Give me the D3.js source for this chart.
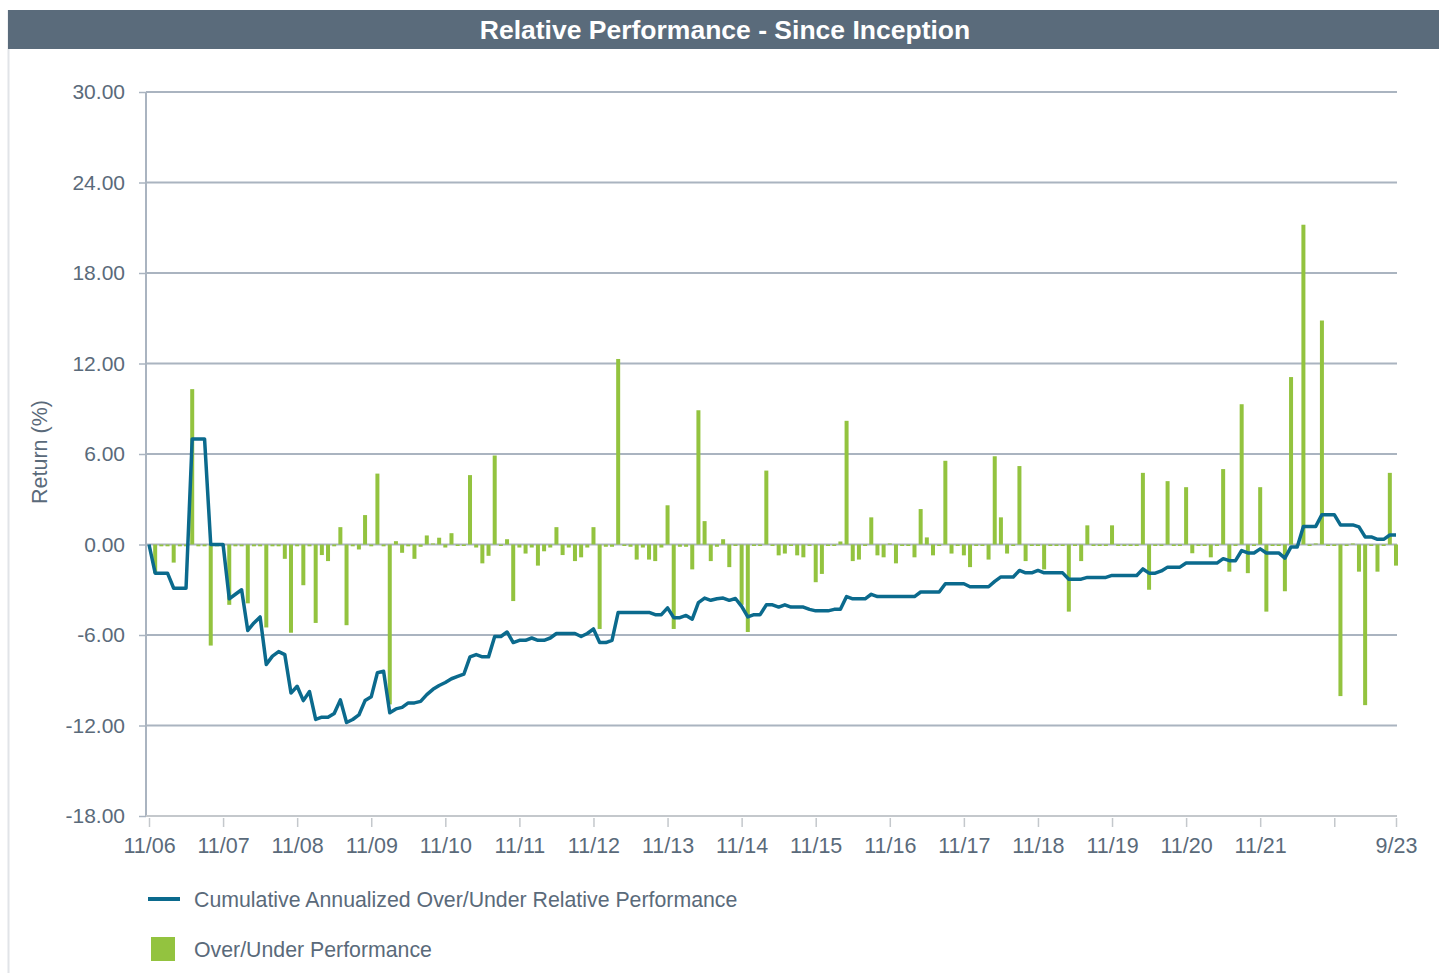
<!DOCTYPE html>
<html>
<head>
<meta charset="utf-8">
<script src="https://cdn.jsdelivr.net/npm/d3@7"></script>
<style>
  html, body { margin: 0; padding: 0; background: #ffffff; }
  svg { display: block; font-family: "Liberation Sans", Arial, sans-serif; }
</style>
</head>
<body>
<svg id="chart" width="1439" height="973"></svg>
<script>
// Monthly over/under performance (%), Nov 2006 .. Sep 2023 (index 0 = inception)
const overUnder = [
  0, -1.9, -0.12, -0.12, -1.2, -0.12, -0.12, 10.3, -0.12, -0.12,
  -6.7, -0.12, -0.12, -4.0, -0.12, -0.12, -3.9, -0.12, -0.12, -5.5,
  -0.12, -0.12, -0.95, -5.85, -0.12, -2.7, -0.12, -5.2, -0.7, -1.1,
  -0.12, 1.15, -5.35, -0.12, -0.33, 1.95, -0.12, 4.7, -0.12, -10.6,
  0.22, -0.55, -0.12, -0.95, -0.15, 0.6, 0.07, 0.45, -0.2, 0.75,
  -0.1, -0.1, 4.6, -0.2, -1.25, -0.75, 5.9, -0.1, 0.35, -3.75,
  -0.2, -0.6, -0.2, -1.4, -0.45, -0.2, 1.15, -0.7, -0.2, -1.1,
  -0.85, -0.2, 1.15, -5.6, -0.15, -0.15, 12.3, -0.1, -0.15, -1.0,
  -0.2, -1.0, -1.1, -0.2, 2.6, -5.6, -0.15, -0.15, -1.65, 8.9,
  1.55, -1.1, -0.15, 0.35, -1.5, -0.1, -4.0, -5.8, -0.1, -0.1,
  4.9, -0.1, -0.72, -0.6, -0.1, -0.72, -0.85, -0.1, -2.5, -1.95,
  -0.1, -0.1, 0.2, 8.2, -1.1, -1.0, -0.1, 1.8, -0.72, -0.85,
  0.07, -1.25, -0.1, -0.1, -0.85, 2.35, 0.47, -0.72, -0.1, 5.55,
  -0.6, -0.1, -0.72, -1.5, -0.1, -0.1, -1.0, 5.85, 1.8, -0.6,
  -0.1, 5.2, -1.1, -0.1, -0.1, -1.65, -0.1, -0.1, -0.1, -4.45,
  -0.1, -1.1, 1.27, -0.1, -0.1, -0.1, 1.27, -0.1, -0.1, -0.1,
  -0.1, 4.75, -3.0, -0.1, -0.1, 4.2, -0.1, -0.1, 3.8, -0.58,
  -0.1, -0.1, -0.85, -0.1, 5.0, -1.8, -0.1, 9.3, -1.9, -0.1,
  3.8, -4.45, -0.1, -0.1, -3.1, 11.1, -0.1, 21.2, -0.1, 0.07,
  14.85, -0.1, -0.1, -10.05, -0.1, 0.07, -1.8, -10.65, -0.1, -1.8,
  -0.1, 4.75, -1.4
];

// Cumulative annualized over/under relative performance (%)
const cumulative = [
  0, -1.9, -1.9, -1.9, -2.9, -2.9, -2.9, 7.0, 7.0, 7.0,
  0, 0, 0, -3.6, -3.3, -3.0, -5.7, -5.2, -4.8, -7.95,
  -7.4, -7.1, -7.3, -9.85, -9.4, -10.35, -9.75, -11.6, -11.45, -11.45,
  -11.2, -10.3, -11.8, -11.6, -11.3, -10.35, -10.1, -8.5, -8.4, -11.15,
  -10.9, -10.8, -10.5, -10.5, -10.4, -9.95, -9.6, -9.35, -9.15, -8.9,
  -8.75, -8.6, -7.45, -7.3, -7.45, -7.45, -6.1, -6.1, -5.8, -6.5,
  -6.35, -6.35, -6.2, -6.35, -6.35, -6.2, -5.9, -5.9, -5.9, -5.9,
  -6.1, -5.9, -5.6, -6.5, -6.5, -6.35, -4.5, -4.5, -4.5, -4.5,
  -4.5, -4.5, -4.65, -4.65, -4.2, -4.85, -4.85, -4.7, -4.95, -3.85,
  -3.55, -3.7, -3.6, -3.55, -3.7, -3.58, -4.1, -4.8, -4.65, -4.65,
  -4.0, -4.0, -4.15, -4.0, -4.15, -4.15, -4.15, -4.3, -4.4, -4.4,
  -4.4, -4.3, -4.3, -3.45, -3.6, -3.6, -3.6, -3.3, -3.45, -3.45,
  -3.45, -3.45, -3.45, -3.45, -3.45, -3.15, -3.15, -3.15, -3.15, -2.6,
  -2.6, -2.6, -2.6, -2.8, -2.8, -2.8, -2.8, -2.45, -2.15, -2.15,
  -2.15, -1.72, -1.88, -1.88, -1.72, -1.88, -1.88, -1.88, -1.88, -2.3,
  -2.3, -2.3, -2.18, -2.18, -2.18, -2.18, -2.05, -2.05, -2.05, -2.05,
  -2.05, -1.62, -1.9, -1.9, -1.75, -1.5, -1.5, -1.5, -1.23, -1.23,
  -1.23, -1.23, -1.23, -1.23, -0.94, -1.07, -1.07, -0.4, -0.56, -0.56,
  -0.29, -0.56, -0.56, -0.56, -0.9, -0.16, -0.16, 1.2, 1.2, 1.2,
  1.98, 1.98, 1.98, 1.3, 1.3, 1.3, 1.17, 0.5, 0.5, 0.34,
  0.34, 0.63, 0.63
];

// Month axis: tick positions (months since inception) and their labels
const tickMonths = [0, 12, 24, 36, 48, 60, 72, 84, 96, 108, 120, 132, 144, 156, 168, 180, 192, 202];
const tickLabels = ["11/06", "11/07", "11/08", "11/09", "11/10", "11/11", "11/12", "11/13", "11/14",
                    "11/15", "11/16", "11/17", "11/18", "11/19", "11/20", "11/21", "", "9/23"];
const yTicks = [-18, -12, -6, 0, 6, 12, 18, 24, 30];

const titleText = "Relative Performance - Since Inception";
const yTitle = "Return (%)";
const legendItems = ["Cumulative Annualized Over/Under Relative Performance", "Over/Under Performance"];

const COLORS = {
  header: "#5a6b7b",
  bar: "#93c33f",
  line: "#0b6a8d",
  grid: "#aab4c0",
  text: "#5a6a7a",
  axis: "#c4c8cc",
  frame: "#e1e4e8"
};
const FONT = "Liberation Sans, Arial, sans-serif";

const svg = d3.select("#chart");
const plot = { left: 146, right: 1397, top: 92, bottom: 816 };

const x = d3.scaleLinear().domain([0, overUnder.length - 1]).range([149, 1396]);
const y = d3.scaleLinear().domain([-18, 30]).range([plot.bottom, plot.top]);

// page frame and header
svg.append("line")
  .attr("x1", 8.5).attr("x2", 8.5).attr("y1", 10).attr("y2", 973)
  .attr("stroke", COLORS.frame).attr("stroke-width", 2);
svg.append("rect")
  .attr("x", 8).attr("y", 10).attr("width", 1431).attr("height", 39)
  .attr("fill", COLORS.header);
svg.append("text")
  .attr("x", 725).attr("y", 39)
  .attr("text-anchor", "middle")
  .attr("fill", "#ffffff")
  .attr("font-size", 26.5).attr("font-weight", "bold")
  .text(titleText);

// horizontal gridlines
svg.append("g").selectAll("line")
  .data(yTicks)
  .join("line")
  .attr("x1", plot.left).attr("x2", plot.right)
  .attr("y1", d => y(d)).attr("y2", d => y(d))
  .attr("stroke", COLORS.grid).attr("stroke-width", 2);

// y axis (plain hyphen for negatives)
const yAxis = svg.append("g")
  .attr("transform", `translate(${plot.left},0)`)
  .call(d3.axisLeft(y).tickValues(yTicks).tickFormat(d => d.toFixed(2)).tickSize(7).tickPadding(14));
yAxis.select(".domain").remove();
yAxis.selectAll(".tick line").attr("stroke", COLORS.grid).attr("stroke-width", 1.5);
yAxis.selectAll(".tick text")
  .attr("fill", COLORS.text).attr("font-size", 21)
  .attr("font-family", FONT);
svg.append("line")
  .attr("x1", plot.left).attr("x2", plot.left)
  .attr("y1", plot.top).attr("y2", plot.bottom)
  .attr("stroke", COLORS.grid).attr("stroke-width", 2);

// x axis
const xAxis = svg.append("g")
  .attr("transform", `translate(0,${plot.bottom + 2})`)
  .call(d3.axisBottom(x).tickValues(tickMonths)
    .tickFormat((d, i) => tickLabels[i]).tickSize(9).tickPadding(11));
xAxis.select(".domain").remove();
xAxis.selectAll(".tick line").attr("stroke", COLORS.axis).attr("stroke-width", 1.5);
xAxis.selectAll(".tick text")
  .attr("fill", COLORS.text).attr("font-size", 21.5)
  .attr("font-family", FONT);
svg.append("line")
  .attr("x1", plot.left).attr("x2", plot.right)
  .attr("y1", plot.bottom).attr("y2", plot.bottom)
  .attr("stroke", COLORS.axis).attr("stroke-width", 2);

// y axis title
svg.append("text")
  .attr("transform", `translate(47,452) rotate(-90)`)
  .attr("text-anchor", "middle")
  .attr("fill", COLORS.text).attr("font-size", 21.5)
  .text(yTitle);

// monthly bars
const barW = 4;
svg.append("g").selectAll("rect")
  .data(overUnder)
  .join("rect")
  .attr("x", (d, i) => x(i) - barW / 2)
  .attr("width", barW)
  .attr("y", d => y(Math.max(0, d)))
  .attr("height", d => Math.abs(y(d) - y(0)))
  .attr("fill", COLORS.bar);

// cumulative line
svg.append("path")
  .datum(cumulative)
  .attr("fill", "none")
  .attr("stroke", COLORS.line)
  .attr("stroke-width", 3.5)
  .attr("stroke-linejoin", "round")
  .attr("d", d3.line().x((d, i) => x(i)).y(d => y(d)));

// legend
const legend = svg.append("g");
legend.append("line")
  .attr("x1", 148).attr("x2", 180).attr("y1", 899).attr("y2", 899)
  .attr("stroke", COLORS.line).attr("stroke-width", 4);
legend.append("rect")
  .attr("x", 151).attr("y", 937).attr("width", 24).attr("height", 24)
  .attr("fill", COLORS.bar);
legend.selectAll("text")
  .data(legendItems)
  .join("text")
  .attr("x", 194)
  .attr("y", (d, i) => 906.5 + i * 50)
  .attr("fill", COLORS.text).attr("font-size", 21.3)
  .text(d => d);
</script>
</body>
</html>
